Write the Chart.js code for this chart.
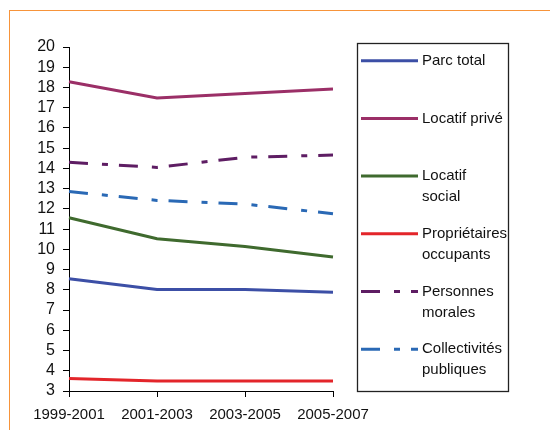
<!DOCTYPE html>
<html>
<head>
<meta charset="utf-8">
<script src="https://cdn.jsdelivr.net/npm/chart.js@4/dist/chart.umd.min.js"></script>
<style>
    html, body { margin: 0; padding: 0; background: #fff; overflow: hidden; }
    #wrap { position: relative; width: 550px; height: 430px; }
    #frame { position: absolute; left: 9px; top: 10px; width: 560px; height: 440px; border: 1px solid #f7943a; }
    #chart { position: absolute; left: 0; top: 0; }
</style>
</head>
<body>
<div id="wrap">
    <div id="frame"></div>
    <canvas id="chart" width="550" height="430"></canvas>
</div>
<script>
const periods = ['1999-2001', '2001-2003', '2003-2005', '2005-2007'];

const seriesNames = [
    'Parc total',
    'Locatif privé',
    'Locatif\nsocial',
    'Propriétaires\noccupants',
    'Personnes\nmorales',
    'Collectivités\npubliques'
];

const parcTotal = [8.55, 8.02, 8.02, 7.88];
const locatifPrive = [18.28, 17.48, 17.7, 17.92];
const locatifSocial = [11.56, 10.52, 10.14, 9.62];
const proprietaires = [3.62, 3.49, 3.49, 3.49];
const personnesMorales = [14.3, 14.05, 14.55, 14.66];
const collectivites = [12.86, 12.42, 12.24, 11.76];

const seriesColors = ['#3c4fa6', '#9b2f67', '#3f6a2e', '#e3252a', '#5e1d63', '#2a69b5'];
const dashMix = [19, 14, 6, 11];

const allValues = [parcTotal, locatifPrive, locatifSocial, proprietaires, personnesMorales, collectivites];

const fontFamily = '"Liberation Sans", Arial, sans-serif';

// legend box drawn at the right of the plot
const boxLegend = {
    id: 'boxLegend',
    afterDraw(chart) {
        const ctx = chart.ctx;
        ctx.save();
        ctx.strokeStyle = '#222';
        ctx.lineWidth = 1.3;
        ctx.strokeRect(357.5, 43.5, 151, 348);

        chart.data.datasets.forEach((ds, i) => {
            const y = 60.7 + i * 57.7;
            ctx.beginPath();
            ctx.strokeStyle = ds.borderColor;
            ctx.lineWidth = ds.borderWidth;
            ctx.setLineDash(ds.borderDash || []);
            ctx.moveTo(361, y);
            ctx.lineTo(418, y);
            ctx.stroke();
            ctx.setLineDash([]);

            ctx.fillStyle = '#111';
            ctx.font = '15px ' + fontFamily;
            ctx.textBaseline = 'middle';
            ds.label.split('\n').forEach((line, k) => {
                ctx.fillText(line, 422, y + k * 21);
            });
        });
        ctx.restore();
    }
};

const ctx = document.getElementById('chart').getContext('2d');

new Chart(ctx, {
    type: 'line',
    data: {
        labels: periods,
        datasets: seriesNames.map((name, i) => ({
            label: name,
            data: allValues[i],
            borderColor: seriesColors[i],
            backgroundColor: seriesColors[i],
            borderWidth: 3,
            borderDash: i >= 4 ? dashMix : [],
            pointRadius: 0,
            tension: 0,
            fill: false
        }))
    },
    options: {
        responsive: false,
        animation: false,
        layout: {
            padding: { left: 0, top: 47, right: 217, bottom: 0 }
        },
        plugins: {
            legend: { display: false },
            tooltip: { enabled: false }
        },
        scales: {
            x: {
                offset: false,
                grid: {
                    drawOnChartArea: false,
                    drawTicks: true,
                    tickLength: 6,
                    color: '#000'
                },
                border: { display: true, color: '#000', width: 1 },
                ticks: {
                    color: '#111',
                    font: { family: fontFamily, size: 15 },
                    maxRotation: 0,
                    autoSkip: false,
                    padding: 9
                },
                afterFit(scale) { scale.height = 39; }
            },
            y: {
                min: 3,
                max: 20,
                grid: {
                    drawOnChartArea: false,
                    drawTicks: true,
                    tickLength: 6,
                    color: '#000'
                },
                border: { display: true, color: '#000', width: 1 },
                ticks: {
                    stepSize: 1,
                    autoSkip: false,
                    color: '#111',
                    font: { family: fontFamily, size: 16 },
                    padding: 8
                },
                afterFit(scale) { scale.width = 69; }
            }
        }
    },
    plugins: [boxLegend]
});
</script>
</body>
</html>
